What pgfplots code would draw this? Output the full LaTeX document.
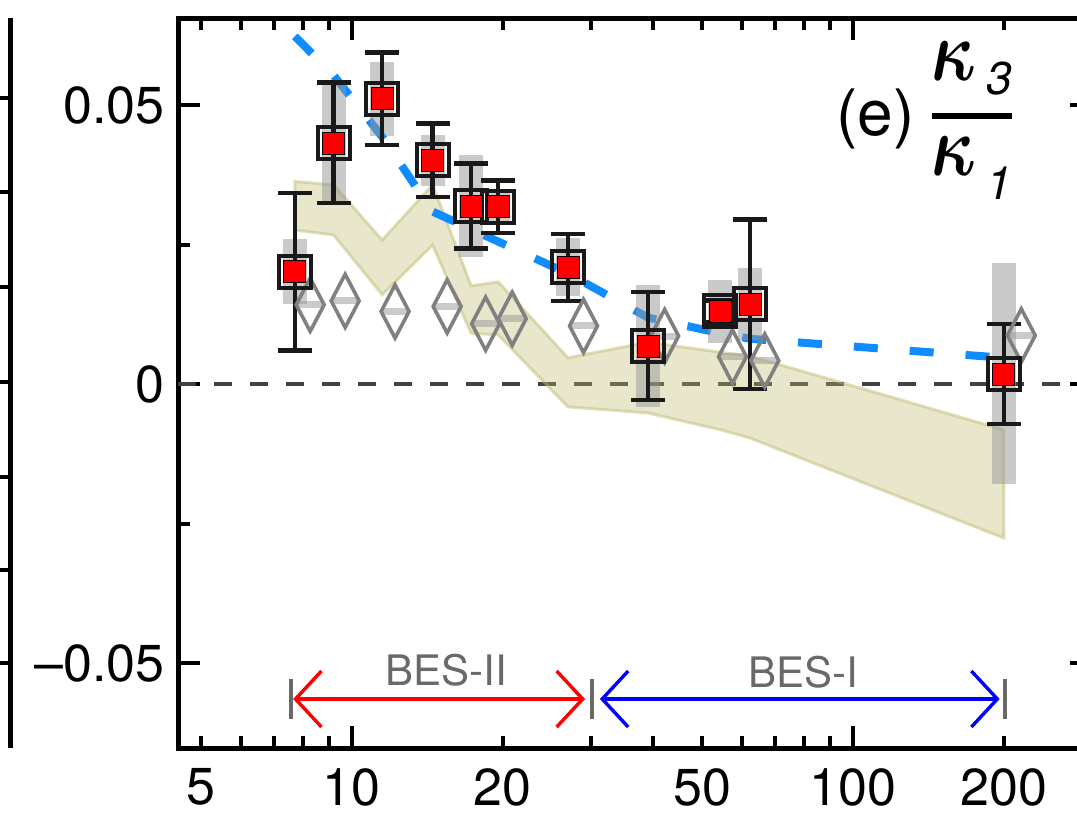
\documentclass[border=0pt]{standalone}
\usepackage{amsmath}
\usepackage{fontspec}
\setmainfont{TeX Gyre Heros}
\usepackage{graphicx}
\usepackage{pgfplots}
\usepackage{pgfplotstable}
\pgfplotsset{compat=1.18}
\usetikzlibrary{calc,arrows.meta}
\definecolor{bandc}{RGB}{189,183,107}
\definecolor{modelblue}{RGB}{15,140,255}
\definecolor{sysgray}{RGB}{150,150,150}
\definecolor{labgray}{RGB}{105,105,105}

% measured points: x, value, stat. error, sys. error
\pgfplotstableread{
x     y       stat    sys
7.7   0.0201  0.0141  0.0058
9.2   0.0432  0.0108  0.0108
11.5  0.0511  0.0083  0.0066
14.5  0.0401  0.0066  0.0046
17.3  0.0319  0.0076  0.0092
19.6  0.0318  0.0047  0.0032
27    0.0209  0.0060  0.0052
39    0.0068  0.0097  0.0109
54.4  0.0130  0.0020  0.0057
62.4  0.0143  0.0152  0.0065
200   0.0018  0.0090  0.0198
}\datatable

% open diamonds (shifted in x)
\pgfplotstableread{
x      y
8.26   0.0142
9.70   0.0149
12.2   0.0130
15.5   0.0139
18.5   0.0108
20.9   0.0117
29.0   0.0104
42.1   0.0086
57.5   0.0049
66.7   0.0042
216.8  0.0087
}\diamtable

% model curve (dashed blue)
\pgfplotstableread{
x      y
7.7    0.0623
9.2    0.0553
11.5   0.0443
14.5   0.0309
27     0.0198
39     0.0119
54.4   0.0091
62.4   0.0081
200    0.0047
}\modeltable

\newcommand{\kap}[2]{\scalebox{1.35}[1.75]{$\boldsymbol{\kappa}$}\hspace{5pt}\raisebox{#2}{\fontsize{23}{26}\selectfont\textit{#1}}}

\begin{document}
\begin{tikzpicture}
\begin{axis}[
    name=ax,
    scale only axis,
    width=457pt, height=365pt,
    xmode=log,
    xmin=4.5, xmax=300,
    ymin=-0.06523, ymax=0.06559,
    axis line style={line width=2.5pt},
    tick style={line width=2pt, black},
    major tick length=11pt,
    minor tick length=6pt,
    tick align=inside,
    xtick={10,100},
    xticklabels={10,100},
    minor xtick={5,6,7,8,9,20,30,40,50,60,70,80,90,200},
    extra x ticks={5,20,50,200},
    extra x tick labels={5,20,50,200},
    extra x tick style={major tick length=6pt},
    ytick={-0.05,0,0.05},
    yticklabels={\textendash0.05,0,0.05},
    minor ytick={-0.025,0.025},
    tick label style={font=\fontsize{26}{30}\selectfont},
    xticklabel style={inner ysep=0pt, yshift=-10pt},
    yticklabel style={inner xsep=0pt, xshift=-6.5pt},
]
% zero line
\addplot[black!75, line width=2pt, dash pattern=on 9pt off 9pt, forget plot]
    coordinates {(4.5,0) (300,0)};

% model band
\addplot[fill=bandc, fill opacity=0.35, draw=bandc, draw opacity=0.45, line width=1.5pt, forget plot]
    coordinates {
    (7.7,0.0363) (9.2,0.0357) (11.5,0.0258) (14.5,0.0357) (17.3,0.0176)
    (19.6,0.0183) (27,0.0047) (39,0.0075) (54.4,0.0057) (62.4,0.0050) (200,-0.0082)
    (200,-0.0276) (62.4,-0.0097) (54.4,-0.0082) (39,-0.0052) (27,-0.0041)
    (19.6,0.0088) (17.3,0.0091) (14.5,0.0249) (11.5,0.0160) (9.2,0.0267) (7.7,0.0276)
    } --cycle;

% model curve
\addplot[modelblue, line width=4pt, dash pattern=on 12pt off 16pt, forget plot]
    table[x=x, y=y] {\modeltable};

% systematic boxes
\addplot[only marks, mark=none, forget plot,
    error bars/.cd, y dir=both, y explicit, error mark=none,
    error bar style={line width=12pt, draw=sysgray, draw opacity=0.5}]
    table[x=x, y=y, y error=sys] {\datatable};

% diamonds
\addplot[only marks, mark=-, mark size=6.25pt, forget plot,
    mark options={line width=3.5pt, draw=sysgray, draw opacity=0.5}]
    table[x=x, y=y] {\diamtable};
\addplot[only marks, mark=diamond, mark size=13.3pt, forget plot,
    mark options={xscale=0.7, line width=1.8pt, draw=black!50, fill=none}]
    table[x=x, y=y] {\diamtable};

% statistical errors
\addplot[only marks, mark=none, forget plot,
    error bars/.cd, y dir=both, y explicit, error mark=|,
    error bar style={line width=2.2pt, draw=black!90},
    error mark options={line width=2.2pt, mark size=8.5pt, draw=black!90}]
    table[x=x, y=y, y error=stat] {\datatable};

% squares
\addplot[only marks, mark=square, mark size=8pt, forget plot,
    mark options={line width=2pt, draw=black!90, fill=none}]
    table[x=x, y=y] {\datatable};
\addplot[only marks, mark=square*, mark size=5.5pt, forget plot,
    mark options={draw=none, fill=red}]
    table[x=x, y=y] {\datatable};

% BES ranges
\draw[labgray, line width=2pt] (axis cs:7.57,-0.0529) -- (axis cs:7.57,-0.0600);
\draw[labgray, line width=2pt] (axis cs:30.15,-0.0529) -- (axis cs:30.15,-0.0600);
\draw[labgray, line width=2pt] (axis cs:200.8,-0.0529) -- (axis cs:200.8,-0.0600);
\draw[red, line width=1.7pt, {Straight Barb[length=13pt,width=28pt]}-{Straight Barb[length=13pt,width=28pt]}]
    (axis cs:7.64,-0.05645) -- (axis cs:29.2,-0.05645);
\draw[blue, line width=1.7pt, {Straight Barb[length=13pt,width=28pt]}-{Straight Barb[length=13pt,width=28pt]}]
    (axis cs:31.27,-0.05645) -- (axis cs:196.3,-0.05645);
\node[labgray, font=\fontsize{21}{24}\selectfont] at (axis cs:15.42,-0.05125) {BES-II};
\node[labgray, font=\fontsize{21}{24}\selectfont] at (axis cs:79.7,-0.0516) {BES-I};

% panel label
\node[font=\fontsize{32}{36}\selectfont, anchor=center] at (axis cs:110.8,0.0475) {(e)};
\node[font=\fontsize{30}{34}\selectfont, anchor=center] at (axis cs:173,0.0472)
    {$\genfrac{}{}{3pt}{0}{\text{\kap{3}{-7pt}}}{\text{\kap{1}{-12pt}}}$};
\end{axis}

% right edge of the neighbouring panel
\begin{axis}[
    scale only axis,
    width=100pt, height=365pt,
    at={($(ax.south west)+(-83.5pt,0)$)}, anchor=south east,
    xmin=0, xmax=1, ymin=0, ymax=730,
    axis x line=none,
    axis y line*=right,
    axis line style={line width=2.5pt, -},
    xtick=\empty,
    ytick={85,178,271,366,461,556,650},
    yticklabels={},
    tick style={line width=2pt, black},
    major tick length=11pt,
    tick align=inside,
]
\addplot[draw=none] coordinates {(0.5,300)};
\end{axis}

\pgfresetboundingbox
\path[use as bounding box] ($(ax.south west)+(-89pt,-33.5pt)$) rectangle ($(ax.south west)+(449.5pt,374pt)$);
\end{tikzpicture}
\end{document}
